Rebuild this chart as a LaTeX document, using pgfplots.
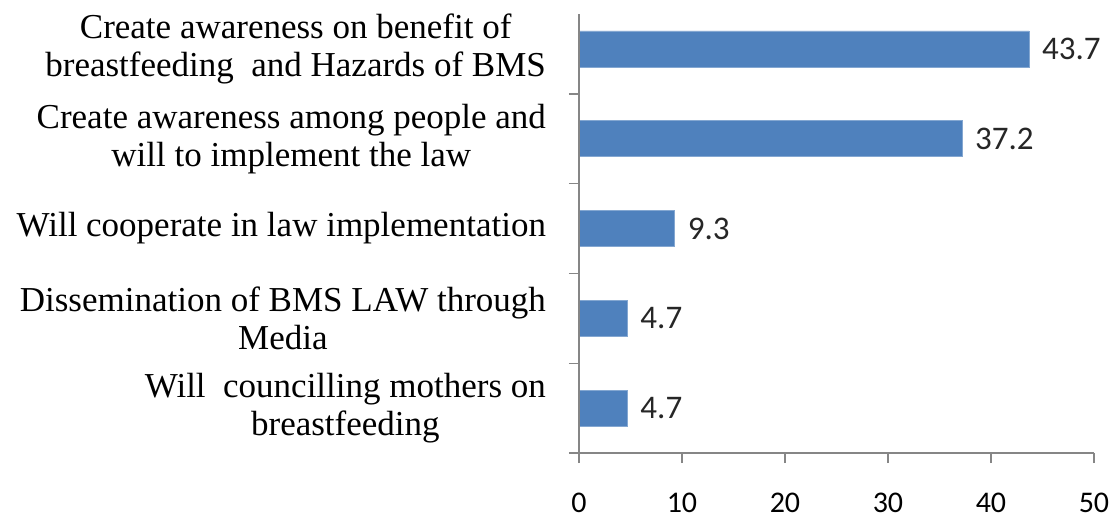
\documentclass[border=0pt]{standalone}
\usepackage{fontspec}
\setmainfont{Liberation Serif}
\newfontfamily\calibri{Carlito}
\usepackage{pgfplots}
\pgfplotsset{compat=1.18}
\definecolor{barblue}{HTML}{4F81BD}
\definecolor{axisgray}{HTML}{868686}
\definecolor{valtext}{HTML}{262626}
\begin{document}
\begin{tikzpicture}
\useasboundingbox (-289.5pt,-33.5pt) rectangle (268pt,226.5pt);
\begin{axis}[
  xbar, scale only axis, width=257.5pt, height=224.5pt,
  xmin=0, xmax=50, ymin=-0.5, ymax=4.5,
  axis x line*=bottom, axis y line*=left,
  y axis line style={draw=none},
  x axis line style={axisgray, line width=0.7pt},
  tick align=outside, major tick length=5pt,
  tick style={axisgray, line width=0.7pt},
  xtick={0,10,...,50},
  xticklabel style={font=\calibri\fontsize{15}{15}\selectfont, inner sep=0.5pt, yshift=-14.5pt},
  /pgf/number format/assume math mode=true,
  ytick={-0.5,0.5,1.5,2.5,3.5},
  yticklabels={},
  extra y ticks={0,1,2,3,4},
  extra y tick labels={
    {Will\ \ councilling mothers on\\breastfeeding},
    {Dissemination of BMS LAW\ through\\Media},
    {Will cooperate in law implementation},
    {Create awareness among people and\\will to implement the law},
    {Create awareness on benefit of\\breastfeeding\ \ and Hazards of BMS}},
  extra y tick style={tick style={draw=none},
    yticklabel style={align=center, anchor=east, xshift=-8pt,
      font=\fontsize{17.5}{19}\selectfont}},
  bar width=18pt,
  nodes near coords,
  every node near coord/.append style={font=\calibri\fontsize{16.5}{16.5}\selectfont,
    text=valtext, xshift=3pt,
    /pgf/number format/.cd, fixed, fixed zerofill, precision=1, assume math mode=true},
  clip=false,
]
\addplot[fill=barblue, draw=barblue!70!white] coordinates {(4.7,0) (4.7,1) (9.3,2) (37.2,3) (43.7,4)};
\draw[axisgray, line width=0.7pt] (axis cs:0,-0.5) -- (axis cs:0,4.389);
\end{axis}
\end{tikzpicture}
\end{document}
